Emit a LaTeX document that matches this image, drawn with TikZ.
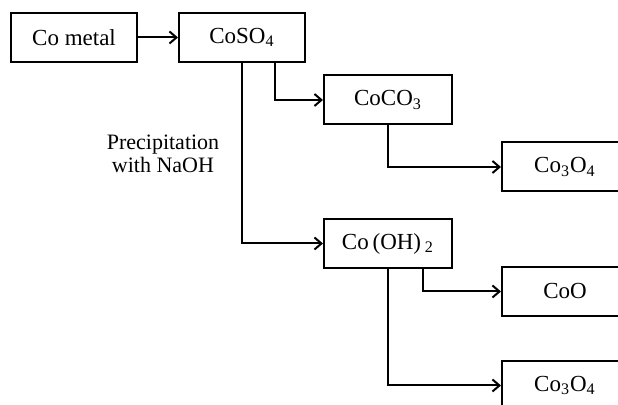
\documentclass[tikz,border=0pt]{standalone}
\usepackage{fontspec}
\setmainfont{Liberation Serif}
\usetikzlibrary{arrows.meta,calc}
\begin{document}
\begin{tikzpicture}[x=0.5pt,y=-0.5pt,
  box/.style={draw,line width=1pt,minimum height=24.5pt,inner sep=0pt,font=\fontsize{11.5}{13}\selectfont},
  conn/.style={line width=1pt,-{Straight Barb[length=3.5pt,width=6pt,line width=1pt]}},
  lbl/.style={align=center,font=\fontsize{11}{11.5}\selectfont}]
\useasboundingbox (0,0) rectangle (618,405);
\clip (0,0) rectangle (618,405);
\node[box,minimum width=63pt] (metal) at (74,37.5) {Co metal};
\node[box,minimum width=63pt] (coso) at (242,37.5) {CoSO\textsubscript{4}};
\node[box,minimum width=64pt] (coco) at (388,100) {CoCO\textsubscript{3}};
\node[box,minimum width=64pt] (cooh) at (388,243.5) {Co\,(OH)\,\textsubscript{2}};
\node[box,minimum width=63pt] (coa) at (565,167) {Co\textsubscript{3}O\textsubscript{4}};
\node[box,minimum width=63pt] (coo) at (565,291.5) {CoO};
\node[box,minimum width=63pt] (cob) at (565,385.5) {Co\textsubscript{3}O\textsubscript{4}};
\node[lbl] (prec) at (163,154) {Precipitation\\with NaOH};
\draw[conn] (metal) -- (coso);
\draw[conn] ($(coso.south)+(33,0)$) |- (coco.west);
\draw[conn] (coso.south) |- (cooh.west);
\draw[conn] (coco.south) |- (coa.west);
\draw[conn] ($(cooh.south)+(35,0)$) |- (coo.west);
\draw[conn] (cooh.south) |- (cob.west);
\end{tikzpicture}
\end{document}
